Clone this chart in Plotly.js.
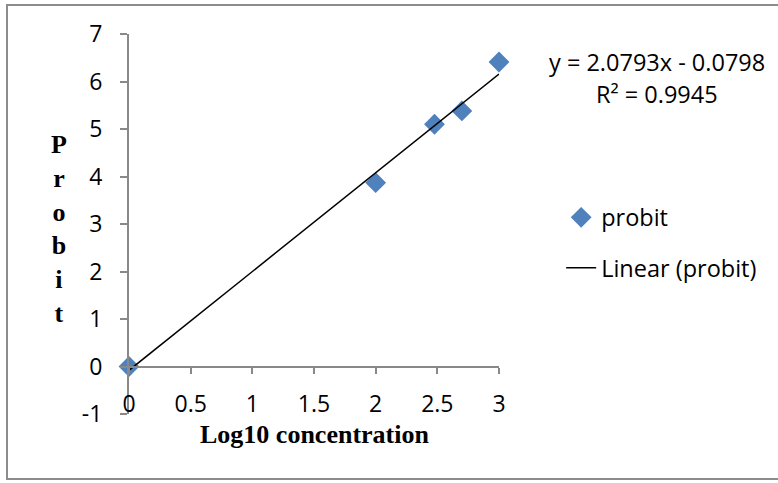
<!DOCTYPE html>
<html>
<head>
<meta charset="utf-8">
<script src="https://cdn.plot.ly/plotly-3.0.1.min.js"></script>
<style>
  html, body { margin: 0; padding: 0; background: #fff; }
  #wrap { position: relative; width: 778px; height: 483px; overflow: hidden; }
  #chart { position: absolute; left: 0; top: 0; width: 778px; height: 483px; }
  #frame { position: absolute; left: 6px; top: 4px; width: 800px; height: 476px;
           border: 2px solid #8c8c8c; pointer-events: none; box-sizing: border-box; }
</style>
</head>
<body>
<div id="wrap">
  <div id="chart"></div>
  <div id="frame"></div>
</div>
<script>
// ---- data ----
const logConc = [0, 2, 2.477, 2.699, 3];
const probit  = [0, 3.87, 5.10, 5.38, 6.41];
const xTicks  = [0, 0.5, 1, 1.5, 2, 2.5, 3];
const yTicks  = [-1, 0, 1, 2, 3, 4, 5, 6, 7];
const seriesName = "probit";
const trendName  = "Linear (probit)";
const eqText  = "y = 2.0793x - 0.0798";
const r2Text  = "R\u00B2 = 0.9945";
const xTitle  = "Log10 concentration";
const yTitleLetters = ["P", "r", "o", "b", "i", "t"];

// least-squares trendline from the data (as the spreadsheet does)
const n = logConc.length;
const mx = logConc.reduce((a, b) => a + b, 0) / n;
const my = probit.reduce((a, b) => a + b, 0) / n;
let sxy = 0, sxx = 0;
for (let i = 0; i < n; i++) { sxy += (logConc[i] - mx) * (probit[i] - my); sxx += (logConc[i] - mx) ** 2; }
const slope = sxy / sxx, intercept = my - slope * mx;
const trendX = [xTicks[0], xTicks[xTicks.length - 1]];
const trendY = trendX.map(x => slope * x + intercept);

const tickFont = { family: "Open Sans, sans-serif", size: 23, color: "#000" };
const textFont = { family: "Open Sans, sans-serif", size: 23.5, color: "#000" };
const axisGray = "#898989";

const traces = [
  { x: logConc, y: probit, name: seriesName, type: "scatter", mode: "markers",
    marker: { symbol: "diamond", size: 16, color: "#4F81BD", line: { width: 0 } },
    legendgroup: "a", cliponaxis: false },
  { x: trendX, y: trendY, name: trendName, type: "scatter", mode: "lines",
    line: { color: "#000", width: 1.5 }, legendgroup: "b", cliponaxis: false }
];

const layout = {
  width: 778, height: 483,
  margin: { l: 129, r: 279, t: 34, b: 69 },
  paper_bgcolor: "#fff", plot_bgcolor: "#fff",
  showlegend: true,
  legend: { x: 1.168, xanchor: "left", y: 0.575, yanchor: "top",
            font: textFont, tracegroupgap: 17, bgcolor: "rgba(0,0,0,0)" },
  xaxis: { range: [0, 3], anchor: "free", position: 0.125,
           tickvals: xTicks, ticktext: xTicks.map(String),
           showline: true, linecolor: axisGray, linewidth: 2,
           ticks: "outside", ticklen: 6, tickcolor: axisGray, tickwidth: 2,
           ticklabelstandoff: 11, tickfont: tickFont,
           showgrid: false, zeroline: false },
  yaxis: { range: [-1, 7], tickvals: yTicks, ticktext: yTicks.map(String),
           showline: true, linecolor: axisGray, linewidth: 2,
           ticks: "outside", ticklen: 7, tickcolor: axisGray, tickwidth: 2,
           ticklabelstandoff: 13, tickfont: tickFont,
           showgrid: false, zeroline: false },
  annotations: [
    { text: xTitle, xref: "paper", yref: "paper", x: 0.5, y: -0.055,
      xanchor: "center", yanchor: "middle", showarrow: false,
      font: { family: "Liberation Serif, Times New Roman, serif", size: 26, color: "#000", weight: "bold" } },
    { text: yTitleLetters.join("<br>"), xref: "paper", yref: "paper", x: -0.19, y: 0.487,
      xanchor: "center", yanchor: "middle", showarrow: false, align: "center",
      font: { family: "Liberation Serif, Times New Roman, serif", size: 26, color: "#000", weight: "bold" } },
    { text: eqText, xref: "paper", yref: "paper", x: 1.427, y: (414 - 62) / 380,
      xanchor: "center", yanchor: "middle", showarrow: false, font: textFont },
    { text: r2Text, xref: "paper", yref: "paper", x: 1.427, y: (414 - 94) / 380,
      xanchor: "center", yanchor: "middle", showarrow: false, font: textFont }
  ]
};

Plotly.newPlot("chart", traces, layout, { staticPlot: true, displayModeBar: false });
</script>
</body>
</html>
